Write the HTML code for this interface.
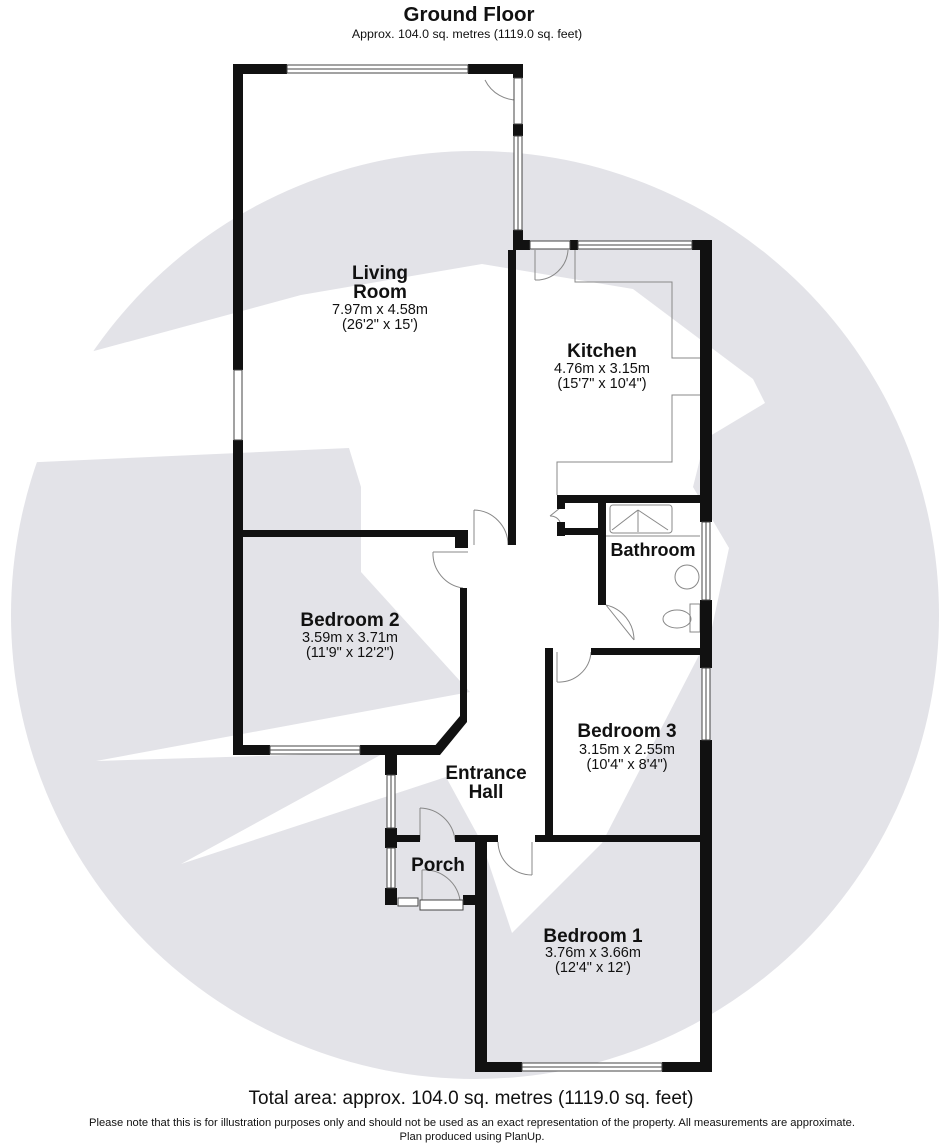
<!DOCTYPE html>
<html><head><meta charset="utf-8"><style>
html,body{margin:0;padding:0;background:#fff}
svg{display:block}
text{font-family:"Liberation Sans",Arial,sans-serif;fill:#111}
.b{font-weight:bold;font-size:19px}
.s{font-size:14.5px}
</style></head><body>
<svg width="944" height="1148" viewBox="0 0 944 1148" xmlns="http://www.w3.org/2000/svg">
<circle cx="475" cy="615" r="464" fill="#e3e3e8"/>
<polygon fill="#fff" points="57,361 301,295 482,264 633,289 753,379 765,403 705,439 693,487 729,548 711,632 602,843 512,933 482,843 446,777 181,864 386,752 96,761 470,692 361,572 361,487 349,448 18,463"/>
<text x="469" y="21" text-anchor="middle" style="font-weight:bold;font-size:20.5px">Ground Floor</text>
<text x="467" y="38" text-anchor="middle" style="font-size:12.4px">Approx. 104.0 sq. metres (1119.0 sq. feet)</text>

<g fill="none" stroke="#888" stroke-width="1">
<polyline points="575,250 575,282 672,282 672,358 700,358"/>
<polyline points="700,395 672,395 672,462 557,462 557,495"/>
<rect x="610" y="505" width="62" height="28" rx="3"/>
<line x1="606" y1="536" x2="700" y2="536"/>
<line x1="612" y1="530" x2="638" y2="510"/><line x1="638" y1="510" x2="668" y2="530"/><line x1="638" y1="510" x2="638" y2="532"/>
<ellipse cx="687" cy="577" rx="12" ry="12"/>
<ellipse cx="677" cy="619" rx="14" ry="9"/><rect x="690" y="604" width="10" height="28"/>
<path d="M520,80 L520,100 M485,80 A36,36 0 0 0 520,100"/>
<path d="M535,280 L535,250 M535,280 A32,32 0 0 0 568,250"/>
<path d="M474,510 L474,545 M474,510 A35,35 0 0 1 508,545"/>
<path d="M433,552 L468,552 M433,552 A35,35 0 0 0 463,588"/>
<path d="M606,605 L634,640 M606,605 A36,36 0 0 1 634,640"/>
<path d="M557,682 L557,652 M557,682 A32,32 0 0 0 591,652"/>
<path d="M420,808 L420,840 M420,808 A36,36 0 0 1 455,840"/>
<path d="M532,842 L532,875 M498,842 A34,34 0 0 0 532,875"/>
<path d="M422,870 L422,900 M422,870 A36,36 0 0 1 460,900"/>
<path d="M560,508 L550,516 M550,516 A10,10 0 0 1 560,522"/>
</g>

<g fill="#111">
<rect x="233" y="64" width="54" height="10"/><rect x="468" y="64" width="55" height="10"/>
<rect x="233" y="64" width="10" height="306"/><rect x="233" y="440" width="10" height="315"/>
<rect x="513" y="64" width="10" height="14"/><rect x="513" y="124" width="10" height="12"/><rect x="513" y="230" width="10" height="20"/>
<rect x="508" y="250" width="8" height="295"/>
<rect x="243" y="530" width="220" height="7"/><rect x="455" y="530" width="13" height="18"/>
<rect x="513" y="240" width="17" height="10"/><rect x="570" y="240" width="8" height="10"/>
<rect x="692" y="240" width="20" height="10"/>
<rect x="700" y="240" width="12" height="282"/><rect x="700" y="600" width="12" height="68"/><rect x="700" y="740" width="12" height="332"/>
<rect x="557" y="495" width="155" height="8"/><rect x="557" y="495" width="8" height="14"/><rect x="557" y="522" width="8" height="14"/>
<rect x="557" y="528" width="49" height="7"/>
<rect x="598" y="495" width="8" height="110"/>
<rect x="591" y="648" width="121" height="7"/>
<rect x="545" y="648" width="8" height="190"/>
<rect x="460" y="588" width="7" height="130"/>
<polygon points="460,716 467,716 467,722 440,755 433,748"/>
<rect x="233" y="745" width="37" height="10"/><rect x="360" y="745" width="80" height="10"/>
<rect x="385" y="745" width="12" height="30"/><rect x="385" y="828" width="12" height="20"/><rect x="385" y="888" width="12" height="17"/>
<rect x="395" y="835" width="25" height="7"/><rect x="455" y="835" width="43" height="7"/>
<rect x="475" y="838" width="12" height="234"/><rect x="463" y="895" width="24" height="10"/>
<rect x="535" y="835" width="177" height="7"/>
<rect x="475" y="1062" width="47" height="10"/><rect x="662" y="1062" width="50" height="10"/>
</g>

<g fill="#fff" stroke="#444" stroke-width="1">
<rect x="287" y="65" width="181" height="8"/><line x1="287" y1="69" x2="468" y2="69"/>
<rect x="514" y="78" width="8" height="46"/>
<rect x="514" y="136" width="8" height="94"/><line x1="518" y1="136" x2="518" y2="230"/>
<rect x="530" y="241" width="40" height="8"/>
<rect x="578" y="241" width="114" height="8"/><line x1="578" y1="245" x2="692" y2="245"/>
<rect x="234" y="370" width="8" height="70"/>
<rect x="702" y="522" width="8" height="78"/><line x1="706" y1="522" x2="706" y2="600"/>
<rect x="702" y="668" width="8" height="72"/><line x1="706" y1="668" x2="706" y2="740"/>
<rect x="270" y="746" width="90" height="8"/><line x1="270" y1="750" x2="360" y2="750"/>
<rect x="387" y="775" width="8" height="53"/><line x1="391" y1="775" x2="391" y2="828"/>
<rect x="387" y="848" width="8" height="40"/><line x1="391" y1="848" x2="391" y2="888"/>
<rect x="398" y="898" width="20" height="8"/>
<rect x="420" y="900" width="43" height="10"/>
<rect x="522" y="1063" width="140" height="8"/><line x1="522" y1="1067" x2="662" y2="1067"/>
</g>

<text x="380" y="279" text-anchor="middle" class="b">Living</text>
<text x="380" y="298" text-anchor="middle" class="b">Room</text>
<text x="380" y="314" text-anchor="middle" class="s">7.97m x 4.58m</text>
<text x="380" y="329" text-anchor="middle" class="s">(26'2" x 15')</text>
<text x="602" y="357" text-anchor="middle" class="b">Kitchen</text>
<text x="602" y="373" text-anchor="middle" class="s">4.76m x 3.15m</text>
<text x="602" y="388" text-anchor="middle" class="s">(15'7" x 10'4")</text>
<text x="653" y="556" text-anchor="middle" class="b" style="font-size:18px">Bathroom</text>
<text x="350" y="626" text-anchor="middle" class="b">Bedroom 2</text>
<text x="350" y="642" text-anchor="middle" class="s">3.59m x 3.71m</text>
<text x="350" y="657" text-anchor="middle" class="s">(11'9" x 12'2")</text>
<text x="627" y="737" text-anchor="middle" class="b">Bedroom 3</text>
<text x="627" y="754" text-anchor="middle" class="s">3.15m x 2.55m</text>
<text x="627" y="769" text-anchor="middle" class="s">(10'4" x 8'4")</text>
<text x="486" y="779" text-anchor="middle" class="b">Entrance</text>
<text x="486" y="798" text-anchor="middle" class="b">Hall</text>
<text x="438" y="871" text-anchor="middle" class="b">Porch</text>
<text x="593" y="942" text-anchor="middle" class="b">Bedroom 1</text>
<text x="593" y="957" text-anchor="middle" class="s">3.76m x 3.66m</text>
<text x="593" y="972" text-anchor="middle" class="s">(12'4" x 12')</text>

<text x="471" y="1104" text-anchor="middle" style="font-size:19px">Total area: approx. 104.0 sq. metres (1119.0 sq. feet)</text>
<text x="472" y="1126" text-anchor="middle" style="font-size:11.2px">Please note that this is for illustration purposes only and should not be used as an exact representation of the property. All measurements are approximate.</text>
<text x="472" y="1140" text-anchor="middle" style="font-size:11.2px">Plan produced using PlanUp.</text>
</svg>
</body></html>
